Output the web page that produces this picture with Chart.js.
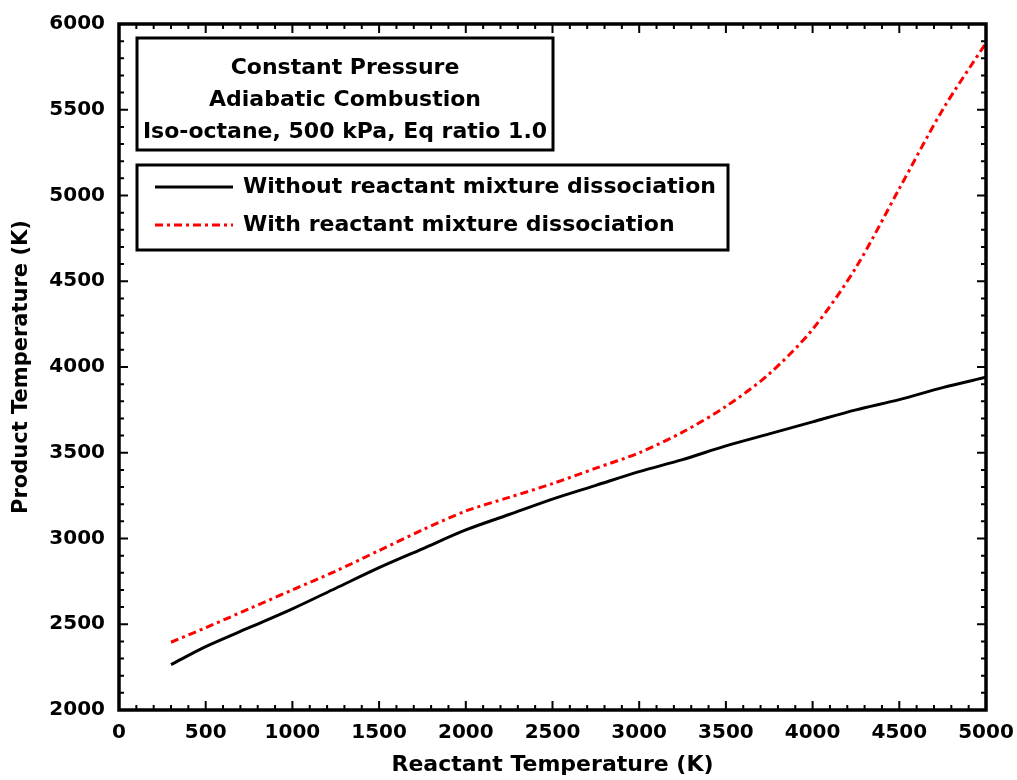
<!DOCTYPE html>
<html>
<head>
<meta charset="utf-8">
<script src="https://cdn.jsdelivr.net/npm/chart.js@4/dist/chart.umd.min.js"></script>
<style>
  html, body { margin: 0; padding: 0; background: #fff; }
  #wrap { width: 1017px; height: 780px; position: relative; }
</style>
</head>
<body>
<div id="wrap"><canvas id="chart"></canvas></div>
<script>
// reactant temperature (K)
const reactantTemp = [300, 500, 750, 1000, 1250, 1500, 1750, 2000, 2250, 2500, 2750, 3000, 3250, 3500, 3750, 4000, 4250, 4500, 4750, 5000];
// product temperature (K), without dissociation of reactants
const productNoDiss = [2265, 2370, 2480, 2590, 2710, 2830, 2940, 3050, 3140, 3230, 3310, 3390, 3460, 3540, 3610, 3680, 3750, 3810, 3880, 3940];
// product temperature (K), with dissociation of reactants
const productDiss = [2395, 2480, 2590, 2700, 2810, 2930, 3050, 3160, 3240, 3320, 3410, 3500, 3620, 3770, 3960, 4220, 4580, 5040, 5500, 5890];

const seriesLabels = ['Without reactant mixture dissociation', 'With reactant mixture dissociation'];
const titleLines = ['Constant Pressure', 'Adiabatic Combustion', 'Iso-octane, 500 kPa, Eq ratio 1.0'];

const FONT = '"DejaVu Sans", Arial, sans-serif';

const toPoints = (xs, ys) => xs.map((x, i) => ({ x: x, y: ys[i] }));

// frame + inward ticks on all four sides
const frameTicks = {
    id: 'frameTicks',
    afterDatasetsDraw(chart) {
        const { ctx, chartArea: a, scales: { x, y } } = chart;
        ctx.save();
        ctx.strokeStyle = '#000';
        ctx.lineWidth = 2;
        for (let v = 0; v <= 5000; v += 100) {
            const px = x.getPixelForValue(v);
            const len = v % 500 === 0 ? 9 : 5;
            ctx.beginPath();
            ctx.moveTo(px, a.bottom); ctx.lineTo(px, a.bottom - len);
            ctx.moveTo(px, a.top); ctx.lineTo(px, a.top + len);
            ctx.stroke();
        }
        for (let v = 2000; v <= 6000; v += 100) {
            const py = y.getPixelForValue(v);
            const len = v % 500 === 0 ? 9 : 5;
            ctx.beginPath();
            ctx.moveTo(a.left, py); ctx.lineTo(a.left + len, py);
            ctx.moveTo(a.right, py); ctx.lineTo(a.right - len, py);
            ctx.stroke();
        }
        ctx.lineWidth = 3.5;
        ctx.strokeRect(a.left, a.top, a.right - a.left, a.bottom - a.top);
        ctx.restore();
    }
};

// title box and legend box inside the plot
const boxes = {
    id: 'boxes',
    afterDraw(chart) {
        const { ctx, chartArea: a } = chart;
        ctx.save();
        ctx.strokeStyle = '#000';
        ctx.lineWidth = 3;

        // title box
        const tx = a.left + 18, ty = a.top + 14, tw = 416, th = 112;
        ctx.fillStyle = '#fff';
        ctx.fillRect(tx, ty, tw, th);
        ctx.strokeRect(tx, ty, tw, th);
        ctx.fillStyle = '#000';
        ctx.font = 'bold 22px ' + FONT;
        ctx.textAlign = 'center';
        ctx.textBaseline = 'middle';
        titleLines.forEach((t, i) => ctx.fillText(t, tx + tw / 2, ty + 30 + i * 32));

        // legend box
        const lx = a.left + 18, ly = a.top + 141, lw = 591, lh = 85;
        ctx.fillStyle = '#fff';
        ctx.fillRect(lx, ly, lw, lh);
        ctx.strokeRect(lx, ly, lw, lh);
        ctx.textAlign = 'left';
        chart.data.datasets.forEach((ds, i) => {
            const yy = ly + 22 + i * 38;
            ctx.save();
            ctx.strokeStyle = ds.borderColor;
            ctx.lineWidth = ds.borderWidth;
            ctx.setLineDash(ds.borderDash || []);
            ctx.beginPath();
            ctx.moveTo(lx + 18, yy); ctx.lineTo(lx + 96, yy);
            ctx.stroke();
            ctx.restore();
            ctx.fillStyle = '#000';
            ctx.fillText(ds.label, lx + 106, yy);
        });
        ctx.restore();
    }
};

new Chart(document.getElementById('chart'), {
    type: 'line',
    data: {
        datasets: [{
            label: seriesLabels[0],
            data: toPoints(reactantTemp, productNoDiss),
            borderColor: '#000',
            borderWidth: 3,
            pointRadius: 0,
            tension: 0.3
        }, {
            label: seriesLabels[1],
            data: toPoints(reactantTemp, productDiss),
            borderColor: '#ff0000',
            borderWidth: 3,
            borderDash: [8, 4, 3, 4],
            pointRadius: 0,
            tension: 0.3
        }]
    },
    options: {
        responsive: true,
        maintainAspectRatio: false,
        animation: false,
        layout: { padding: { left: 0, right: 31, top: 24, bottom: 0 } },
        scales: {
            x: {
                type: 'linear',
                min: 0,
                max: 5000,
                afterFit: (s) => { s.height = 70; s.paddingLeft = 0; s.paddingRight = 0; },
                grid: { display: false, drawTicks: false },
                border: { display: false },
                ticks: {
                    stepSize: 500,
                    padding: 11,
                    color: '#000',
                    font: { family: FONT, size: 20, weight: 'bold' },
                    callback: (v) => String(v)
                },
                title: {
                    display: true,
                    text: 'Reactant Temperature (K)',
                    color: '#000',
                    font: { family: FONT, size: 22, weight: 'bold' },
                    padding: { top: 0, bottom: 2 }
                }
            },
            y: {
                min: 2000,
                max: 6000,
                afterFit: (s) => { s.width = 119; s.paddingTop = 0; s.paddingBottom = 0; },
                grid: { display: false, drawTicks: false },
                border: { display: false },
                ticks: {
                    stepSize: 500,
                    padding: 14,
                    color: '#000',
                    font: { family: FONT, size: 20, weight: 'bold' },
                    callback: (v) => String(v)
                },
                title: {
                    display: true,
                    text: 'Product Temperature (K)',
                    color: '#000',
                    font: { family: FONT, size: 21, weight: 'bold' },
                    padding: { top: 9, bottom: 0 }
                }
            }
        },
        plugins: {
            legend: { display: false },
            tooltip: { enabled: false }
        }
    },
    plugins: [frameTicks, boxes]
});
</script>
</body>
</html>
